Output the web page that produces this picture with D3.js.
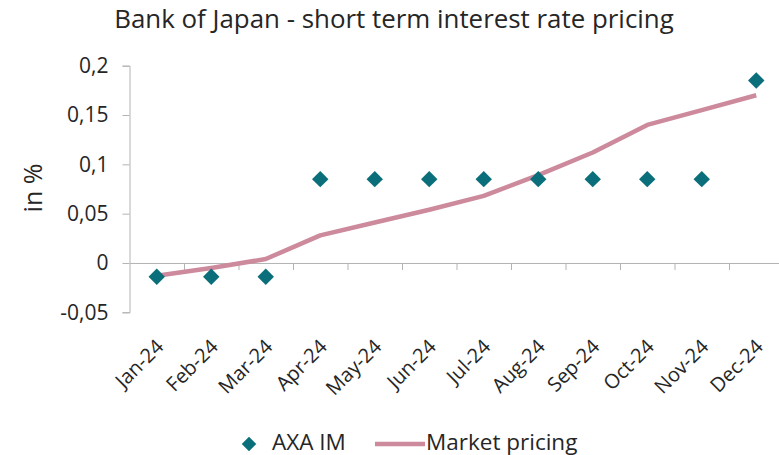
<!DOCTYPE html>
<html>
<head>
<meta charset="utf-8">
<script src="https://cdn.jsdelivr.net/npm/d3@7"></script>
<style>
  body { margin: 0; background: #fff; }
  text { font-family: "Open Sans", sans-serif; fill: #262626; }
</style>
</head>
<body>
<div id="chart"></div>
<script>
// data
var months = ["Jan-24", "Feb-24", "Mar-24", "Apr-24", "May-24", "Jun-24",
              "Jul-24", "Aug-24", "Sep-24", "Oct-24", "Nov-24", "Dec-24"];
var axaIM = [-0.014, -0.014, -0.014, 0.085, 0.085, 0.085, 0.085, 0.085, 0.085, 0.085, 0.085, 0.185];
var marketPricing = [-0.013, -0.005, 0.004, 0.028, 0.041, 0.054, 0.068, 0.089, 0.112, 0.14, 0.155, 0.17];
var yTicks = [-0.05, 0, 0.05, 0.1, 0.15, 0.2];

var svgWidth = 779;
var svgHeight = 455;

var tealColor = "#0a6f7a";
var pinkColor = "#cc8a9c";
var axisColor = "#b3b3b3";

var svg = d3.select("#chart")
    .append("svg")
    .attr("width", svgWidth)
    .attr("height", svgHeight);

// scales
var x = d3.scaleBand()
    .domain(months)
    .range([129.5, 783.5])
    .padding(0);

var y = d3.scaleLinear()
    .domain([-0.05, 0.2])
    .range([312.3, 65.7]);

var cx = function (i) { return x(months[i]) + x.bandwidth() / 2; };

// title
var title = svg.append("text")
    .attr("x", 394)
    .attr("y", 28)
    .attr("text-anchor", "middle")
    .style("font-size", "22px")
    .text("Bank of Japan - short term interest rate pricing");
// squeeze to the width of the original title
var tw = title.node().getComputedTextLength();
title.style("font-size", (22 * 560 / tw) + "px");

// y axis
var yAxis = svg.append("g")
    .attr("transform", "translate(129.5,0)")
    .call(d3.axisLeft(y)
        .tickValues(yTicks)
        .tickSize(7)
        .tickPadding(14)
        .tickFormat(function (d) { return String(+d.toFixed(2)).replace(".", ","); }));
yAxis.select(".domain").attr("stroke", axisColor);
yAxis.selectAll(".tick line").attr("stroke", axisColor);
yAxis.selectAll(".tick text")
    .style("font-size", "21px")
    .attr("fill", "#262626");

// y axis label
svg.append("text")
    .attr("transform", "translate(42,188) rotate(-90)")
    .attr("text-anchor", "middle")
    .style("font-size", "25px")
    .text("in %");

// x axis at zero, ticks between categories
var xEdges = d3.scaleLinear().domain([0, 12]).range(x.range());
var xAxis = svg.append("g")
    .attr("transform", "translate(0," + y(0) + ")")
    .call(d3.axisBottom(xEdges)
        .tickValues(d3.range(1, 13))
        .tickSize(7)
        .tickSizeOuter(0)
        .tickFormat(""));
xAxis.select(".domain").attr("stroke", axisColor);
xAxis.selectAll(".tick line").attr("stroke", axisColor);

// rotated month labels
svg.append("g")
    .selectAll("text")
    .data(months)
    .enter().append("text")
    .attr("transform", function (d, i) {
        return "translate(" + (cx(i) + 8) + ",348) rotate(-45)";
    })
    .attr("text-anchor", "end")
    .style("font-size", "20px")
    .text(function (d) { return d; });

// market pricing line
var line = d3.line()
    .x(function (d, i) { return cx(i); })
    .y(function (d) { return y(d); });

svg.append("path")
    .datum(marketPricing)
    .attr("d", line)
    .attr("fill", "none")
    .attr("stroke", pinkColor)
    .attr("stroke-width", 4.5)
    .attr("stroke-linejoin", "round");

// AXA IM diamonds
var diamond = d3.symbol().type(d3.symbolSquare).size(135);
svg.append("g")
    .selectAll("path")
    .data(axaIM)
    .enter().append("path")
    .attr("d", diamond)
    .attr("transform", function (d, i) {
        return "translate(" + cx(i) + "," + y(d) + ") rotate(45)";
    })
    .attr("fill", tealColor);

// legend
var legend = svg.append("g");
legend.append("path")
    .attr("d", d3.symbol().type(d3.symbolSquare).size(105))
    .attr("transform", "translate(249,444) rotate(45)")
    .attr("fill", tealColor);
legend.append("text")
    .attr("x", 272)
    .attr("y", 449.5)
    .style("font-size", "22.5px")
    .text("AXA IM");
legend.append("line")
    .attr("x1", 375).attr("x2", 425)
    .attr("y1", 444).attr("y2", 444)
    .attr("stroke", pinkColor)
    .attr("stroke-width", 4.5);
legend.append("text")
    .attr("x", 426)
    .attr("y", 449.5)
    .style("font-size", "22.5px")
    .text("Market pricing");
</script>
</body>
</html>
